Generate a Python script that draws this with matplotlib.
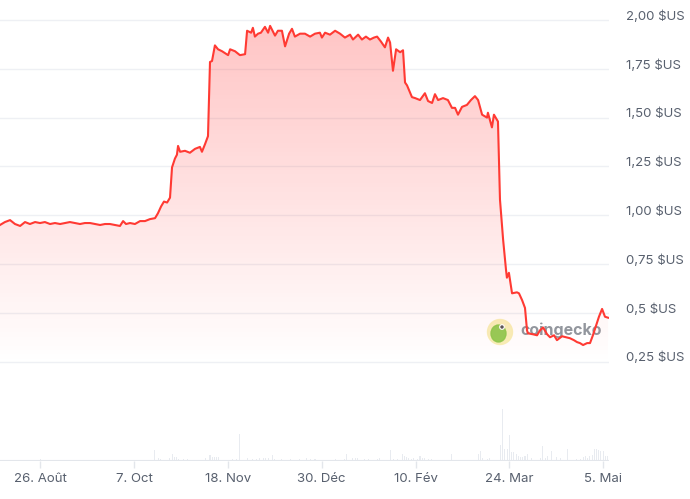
import numpy as np
import pandas as pd
import matplotlib
matplotlib.use('Agg')
import matplotlib.pyplot as plt
import matplotlib.dates as mdates
import matplotlib.transforms as mtransforms
from matplotlib.patches import Circle, Ellipse

plt.rcParams['font.family'] = ['Inter', 'DejaVu Sans']

# price data: days since 8 Aug 2022 and price in $US
start = pd.Timestamp('2022-08-08')
price_days = [0, 2.2, 4.5, 6.7, 9.0, 11.2, 13.4, 15.7, 17.9, 20.1, 22.4, 24.6, 26.9, 29.1,
              31.3, 33.6, 35.8, 38.0, 40.3, 42.5, 44.8, 47.0, 49.2, 51.5, 53.7, 55.1, 56.4,
              58.2, 60.4, 62.7, 64.9, 67.1, 69.4, 70.7, 72.1, 73.4, 74.8, 76.1, 77.0, 78.3,
              79.2, 79.7, 80.6, 82.8, 85.0, 87.3, 89.5, 90.4, 91.8, 93.1, 94.0, 94.9, 96.2,
              97.6, 99.4, 102.1, 103.0, 105.2, 107.4, 109.7, 110.6, 112.4, 113.2, 114.1,
              115.5, 116.8, 118.6, 120.0, 120.9, 123.1, 124.4, 126.2, 127.6, 129.4, 130.7,
              132.0, 134.3, 136.5, 138.8, 141.0, 143.2, 144.1, 145.5, 147.7, 150.0, 152.2,
              154.4, 156.7, 158.0, 160.3, 162.0, 163.8, 165.6, 167.4, 168.8, 170.5, 172.3,
              173.7, 174.6, 175.9, 177.3, 179.1, 180.4, 181.3, 182.2, 184.4, 185.8, 188.0,
              190.2, 191.6, 193.4, 194.7, 196.1, 198.3, 200.5, 202.3, 203.7, 205.0, 206.8,
              209.0, 210.8, 212.6, 214.0, 215.8, 218.0, 218.4, 220.2, 221.1, 222.9, 223.8,
              225.2, 226.5, 226.9, 227.8, 229.2, 231.4, 232.3, 233.7, 235.0, 235.9, 236.3,
              238.6, 240.4, 241.7, 243.1, 244.9, 246.2, 248.0, 249.3, 251.6, 253.4, 255.1,
              256.9, 258.3, 259.6, 261.0, 262.8, 264.1, 265.4, 266.8, 268.1, 269.5, 270.8,
              272.2]
price = [0.95, 0.965, 0.975, 0.955, 0.945, 0.965, 0.955, 0.965, 0.96, 0.965, 0.955, 0.96,
         0.955, 0.96, 0.965, 0.96, 0.955, 0.96, 0.96, 0.955, 0.95, 0.955, 0.955, 0.95,
         0.945, 0.97, 0.955, 0.96, 0.955, 0.97, 0.97, 0.98, 0.985, 1.01, 1.045, 1.07,
         1.065, 1.09, 1.245, 1.29, 1.31, 1.355, 1.325, 1.33, 1.32, 1.34, 1.35, 1.325,
         1.365, 1.405, 1.785, 1.79, 1.87, 1.85, 1.84, 1.82, 1.85, 1.84, 1.82, 1.825,
         1.945, 1.935, 1.96, 1.915, 1.93, 1.935, 1.965, 1.935, 1.97, 1.92, 1.945, 1.945,
         1.865, 1.93, 1.955, 1.915, 1.93, 1.93, 1.915, 1.93, 1.935, 1.91, 1.935, 1.925,
         1.945, 1.93, 1.91, 1.925, 1.90, 1.925, 1.90, 1.915, 1.90, 1.91, 1.915, 1.89,
         1.86, 1.91, 1.885, 1.74, 1.85, 1.835, 1.845, 1.68, 1.665, 1.605, 1.60, 1.59,
         1.625, 1.585, 1.575, 1.62, 1.59, 1.60, 1.59, 1.55, 1.55, 1.515, 1.555, 1.565,
         1.59, 1.61, 1.59, 1.515, 1.50, 1.525, 1.45, 1.515, 1.48, 1.08, 0.875, 0.72,
         0.68, 0.705, 0.60, 0.605, 0.60, 0.565, 0.525, 0.41, 0.395, 0.39, 0.385, 0.41,
         0.425, 0.39, 0.375, 0.385, 0.36, 0.38, 0.375, 0.37, 0.36, 0.35, 0.345, 0.335,
         0.345, 0.345, 0.385, 0.435, 0.48, 0.52, 0.48, 0.475]

# trading volume (arbitrary units, millions)
vol_days = [15, 18, 20, 22, 26, 28, 45, 54, 60, 69, 71, 72, 76, 77, 77, 78, 79, 80, 82, 84,
            87, 92, 94, 95, 96, 97, 98, 102, 104, 106, 107, 107, 111, 111, 113, 115, 116,
            118, 119, 120, 122, 123, 126, 130, 134, 137, 137, 139, 141, 150, 154, 155, 158,
            159, 160, 163, 165, 169, 170, 175, 176, 178, 180, 181, 182, 183, 184, 185, 187,
            188, 189, 190, 192, 193, 197, 201, 202, 214, 215, 216, 218, 219, 224, 225, 226,
            227, 228, 229, 230, 231, 232, 233, 234, 235, 236, 238, 242, 243, 244, 245, 247,
            249, 251, 254, 258, 260, 261, 262, 263, 264, 265, 266, 267, 268, 269, 270, 271,
            272]
vol = [1, 2, 1, 1, 1, 1, 1, 1, 1, 11, 3, 2, 3, 7, 4, 4, 4, 2, 2, 2,
       1, 3, 6, 4, 4, 4, 4, 1, 2, 2, 2, 27, 3, 3, 2, 2, 3,
       3, 3, 3, 6, 2, 2, 2, 2, 3, 2, 2, 2, 2, 2, 7, 3,
       3, 3, 2, 2, 2, 3, 11, 2, 2, 7, 5, 4, 3, 2, 3, 2,
       5, 3, 3, 2, 2, 1, 1, 7, 7, 10, 3, 2, 3, 16, 52, 12,
       12, 26, 9, 9, 7, 5, 4, 4, 5, 7, 3, 3, 15, 3, 5, 10,
       4, 3, 12, 2, 2, 4, 5, 3, 5, 6, 12, 12, 11, 10, 10, 5,
       5]

xtick_dates = ['2022-08-26', '2022-10-07', '2022-11-18', '2022-12-30',
               '2023-02-10', '2023-03-24', '2023-05-05']
xtick_labels = ['26. Août', '7. Oct', '18. Nov', '30. Déc', '10. Fév', '24. Mar', '5. Mai']
ytick_values = [0.25, 0.5, 0.75, 1.0, 1.25, 1.5, 1.75, 2.0]
ytick_labels = ['0,25 $US', '0,5 $US', '0,75 $US', '1,00 $US', '1,25 $US', '1,50 $US',
                '1,75 $US', '2,00 $US']

line_color = '#ff3a33'
grid_color = '#eef0f4'
text_color = '#58606e'

dates = start + pd.to_timedelta(price_days, unit='D')
vdates = start + pd.to_timedelta(vol_days, unit='D')
x = mdates.date2num(dates)

fig = plt.figure(figsize=(6.9, 4.99), dpi=100)
fig.patch.set_facecolor('white')
ax = fig.add_axes([0, 38 / 499, 609 / 690, 461 / 499])
axv = ax.twinx()
axv.set_zorder(0)
ax.set_zorder(1)
ax.patch.set_visible(False)
axv.patch.set_visible(False)

ymin, ymax = -0.259, 2.1025
x0 = mdates.date2num(start)
x1 = x0 + 272.6

# volume bars
axv.bar(vdates, vol, width=0.45, color='#e8ebf0', align='center')
axv.set_ylim(0, 461)
axv.set_yticks([])
for s in axv.spines.values():
    s.set_visible(False)

# gradient fill under the price line
ny = 300
yy = np.linspace(ymax, ymin, ny)
alpha = np.clip((yy - 0.24) / (1.97 - 0.24), 0, 1) * 0.30
grad = np.zeros((ny, 2, 4))
grad[..., 0] = 1.0
grad[..., 1] = 0.24
grad[..., 2] = 0.24
grad[..., 3] = alpha[:, None]
img = ax.imshow(grad, extent=[x0, x1, ymin, ymax], aspect='auto', origin='upper',
                interpolation='bilinear', zorder=1)
poly = ax.fill_between(x, price, ymin, color='none', lw=0)
path = poly.get_paths()[0]
img.set_clip_path(path, transform=ax.transData)

ax.plot(x, price, color=line_color, lw=1.5, zorder=3, solid_joinstyle='round')

ax.set_xlim(x0, x1)
ax.set_ylim(ymin, ymax)

# gridlines
for v in ytick_values:
    ax.axhline(v, color=grid_color, lw=1, zorder=0.5)
ax.axhline(ymin, color='#e3e6eb', lw=1.5, zorder=2)

ax.yaxis.tick_right()
ax.set_yticks(ytick_values)
ax.set_yticklabels(ytick_labels, fontsize=9.5, color=text_color)
ax.tick_params(axis='y', length=0, pad=12.5)
offset = mtransforms.ScaledTranslation(0, 5 / 100, fig.dpi_scale_trans)
for lab in ax.get_yticklabels():
    lab.set_transform(lab.get_transform() + offset)

ax.set_xticks(mdates.date2num(pd.to_datetime(xtick_dates)))
ax.set_xticklabels(xtick_labels, fontsize=9.5, color=text_color)
ax.tick_params(axis='x', length=5, width=1, color='#e3e6eb', pad=4)

for s in ax.spines.values():
    s.set_visible(False)

# coingecko watermark (in inches on the figure, drawn below the price line)
tr = fig.dpi_scale_trans
fig.add_artist(Circle((5.00, 1.67), 0.125, transform=tr, color='#f8eeb2', alpha=0.9, zorder=0.5))
fig.add_artist(Ellipse((4.985, 1.655), 0.15, 0.17, transform=tr, color='#8cc84b', alpha=0.9, zorder=0.5))
fig.add_artist(Circle((5.02, 1.72), 0.022, transform=tr, color='white', zorder=0.5))
fig.add_artist(Circle((5.02, 1.72), 0.01, transform=tr, color='#555555', zorder=0.5))
fig.text(5.20, 1.685, 'coingecko', transform=tr, fontsize=11.5, fontweight='bold',
         color='#6e737c', alpha=0.75, va='center', ha='left', zorder=0.5)

fig.savefig('out.png', dpi=100)
